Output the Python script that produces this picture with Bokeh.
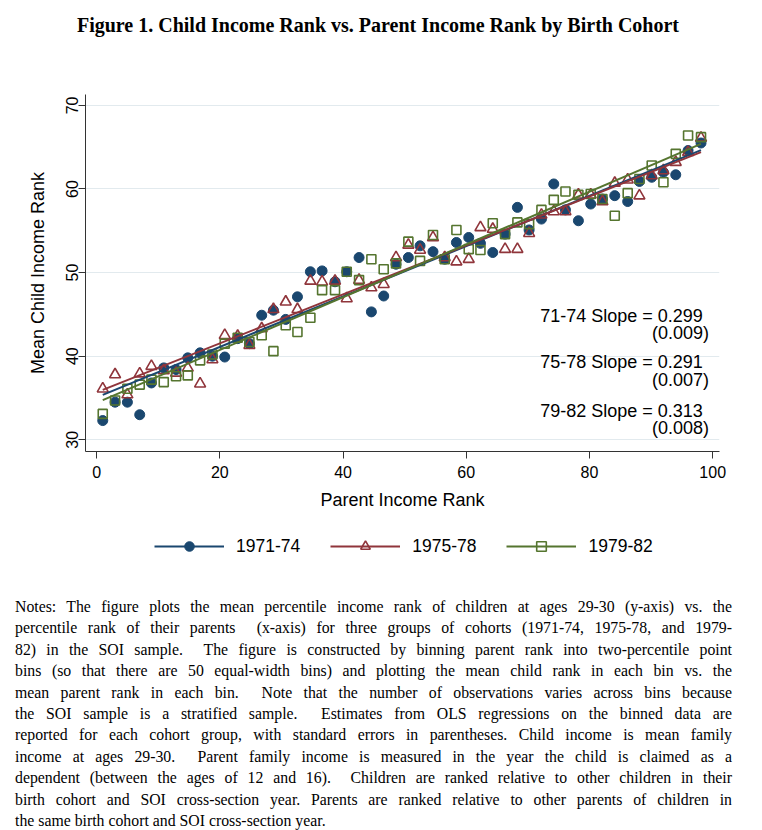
import numpy as np
from bokeh.plotting import figure
from bokeh.models import Range1d, FixedTicker, Label, Legend, LegendItem, Div
from bokeh.layouts import column
from bokeh.embed import file_html
from bokeh.resources import INLINE

# ---------------- data ----------------
parent_rank = [1.0, 3.0, 5.0, 7.0, 8.9, 10.9, 12.9, 14.8, 16.8, 18.8,
               20.8, 22.9, 24.8, 26.8, 28.7, 30.7, 32.6, 34.7, 36.6, 38.7,
               40.6, 42.6, 44.6, 46.6, 48.6, 50.6, 52.5, 54.6, 56.5, 58.4,
               60.4, 62.3, 64.3, 66.3, 68.3, 70.2, 72.2, 74.2, 76.1, 78.2,
               80.2, 82.1, 84.1, 86.2, 88.1, 90.1, 92.0, 94.0, 96.0, 98.1]

child_7174 = [32.3, 34.5, 34.5, 33.0, 36.8, 38.6, 38.4, 39.8, 40.4, 40.0,
              39.9, 42.1, 41.5, 44.9, 45.5, 44.4, 47.1, 50.1, 50.2, 48.9,
              50.1, 51.8, 45.3, 47.2, 51.0, 51.8, 53.2, 52.5, 51.6, 53.6,
              54.2, 53.5, 52.4, 54.6, 57.8, 55.1, 56.4, 60.6, 57.5, 56.2,
              58.2, 58.8, 59.2, 58.5, 60.9, 61.4, 62.0, 61.7, 64.6, 65.5]

child_7578 = [36.1, 37.8, 35.4, 37.9, 38.8, 38.3, 38.0, 38.6, 36.7, 39.6,
              42.5, 42.4, 41.3, 43.3, 45.6, 46.5, 45.6, 49.0, 48.9, 49.0,
              46.9, 49.1, 48.2, 48.6, 51.8, 53.3, 52.7, 54.2, 51.8, 51.3,
              51.6, 55.4, 55.2, 52.8, 52.8, 54.7, 56.9, 57.3, 57.3, 59.3,
              59.3, 58.5, 60.7, 61.1, 59.2, 61.6, 62.2, 63.2, 64.4, 66.1]

child_7982 = [33.1, 34.7, 36.1, 36.6, 37.2, 36.9, 37.6, 37.7, 39.5, 40.2,
              41.5, 42.2, 41.7, 42.5, 40.6, 43.7, 42.9, 44.6, 47.9, 47.9,
              50.1, 49.1, 51.6, 50.4, 51.1, 53.7, 51.4, 54.5, 51.6, 55.1,
              52.8, 52.7, 55.9, 54.6, 56.0, 55.8, 57.5, 58.7, 59.7, 59.3,
              59.4, 58.8, 56.8, 59.5, 61.2, 62.8, 60.8, 64.2, 66.4, 66.2]

cohort_labels = ["1971-74", "1975-78", "1979-82"]
slope_texts = ["71-74 Slope = 0.299", "75-78 Slope = 0.291", "79-82 Slope = 0.313"]
se_texts = ["(0.009)", "(0.007)", "(0.008)"]
x_ticks = [0, 20, 40, 60, 80, 100]
y_ticks = [30, 40, 50, 60, 70]

title_text = "Figure 1. Child Income Rank vs. Parent Income Rank by Birth Cohort"
notes_lines = [
    "Notes: The figure plots the mean percentile income rank of children at ages 29-30 (y-axis) vs. the",
    "percentile rank of their parents &nbsp;(x-axis) for three groups of cohorts (1971-74, 1975-78, and 1979-",
    "82) in the SOI sample. &nbsp;The figure is constructed by binning parent rank into two-percentile point",
    "bins (so that there are 50 equal-width bins) and plotting the mean child rank in each bin vs. the",
    "mean parent rank in each bin. &nbsp;Note that the number of observations varies across bins because",
    "the SOI sample is a stratified sample. &nbsp;Estimates from OLS regressions on the binned data are",
    "reported for each cohort group, with standard errors in parentheses. Child income is mean family",
    "income at ages 29-30. &nbsp;Parent family income is measured in the year the child is claimed as a",
    "dependent (between the ages of 12 and 16). &nbsp;Children are ranked relative to other children in their",
    "birth cohort and SOI cross-section year. Parents are ranked relative to other parents of children in",
    "the same birth cohort and SOI cross-section year.",
]

# ---------------- styles ----------------
BLUE = "#1a476f"
RED = "#90353b"
GREEN = "#55752f"
SANS = "Liberation Sans"
SERIF = "Liberation Serif"

# ---------------- title ----------------
title_div = Div(
    text=(f"<div style=\"width:746px;text-align:center;font-family:'{SERIF}';"
          f"font-weight:bold;font-size:20px;line-height:24px;padding-top:8px;color:#000\">"
          f"{title_text}</div>"),
    width=746, height=52)

# ---------------- main figure ----------------
p = figure(width=746, height=465, output_backend="svg", toolbar_location=None,
           x_range=Range1d(-1.8, 101.1), y_range=Range1d(28.6, 71.3),
           min_border_left=85, min_border_right=27, min_border_top=32,
           min_border_bottom=76)
p.outline_line_color = None
p.background_fill_color = "white"
p.border_fill_color = "white"
p.xgrid.visible = False
p.ygrid.ticker = FixedTicker(ticks=y_ticks)
p.ygrid.grid_line_color = "#e2eaee"
p.ygrid.grid_line_width = 1

p.xaxis.ticker = FixedTicker(ticks=x_ticks)
p.yaxis.ticker = FixedTicker(ticks=y_ticks)
p.xaxis.axis_label = "Parent Income Rank"
p.yaxis.axis_label = "Mean Child Income Rank"
p.yaxis.major_label_orientation = "vertical"
for ax in (p.xaxis[0], p.yaxis[0]):
    ax.axis_line_color = "#333333"
    ax.major_tick_line_color = "#333333"
    ax.major_tick_out = 7
    ax.major_tick_in = 0
    ax.minor_tick_out = 0
    ax.minor_tick_in = 0
    ax.major_label_text_font = SANS
    ax.major_label_text_font_size = "16px"
    ax.major_label_text_color = "black"
    ax.axis_label_text_font = SANS
    ax.axis_label_text_font_size = "18px"
    ax.axis_label_text_font_style = "normal"
    ax.axis_label_text_color = "black"
p.xaxis.major_label_standoff = 7
p.xaxis.axis_label_standoff = 9
p.yaxis.major_label_standoff = 0
p.yaxis.axis_label_standoff = 16

series = [(child_7174, BLUE, "circle"), (child_7578, RED, "triangle"), (child_7982, GREEN, "square")]
marker_style = {
    "circle": dict(size=10, fill_alpha=1.0, line_width=1),
    "triangle": dict(size=11, fill_alpha=0.0, line_width=1.6),
    "square": dict(size=9, fill_alpha=0.0, line_width=1.6),
}
xs = np.array(parent_rank)
for ys, col, mk in series:
    p.scatter(parent_rank, ys, marker=mk, fill_color=col, line_color=col, **marker_style[mk])

for ys, col, mk in series:
    b, a = np.polyfit(xs, np.array(ys), 1)
    x0, x1 = float(xs.min()), float(xs.max())
    p.line([x0, x1], [a + b * x0, a + b * x1], line_color=col, line_width=2)

# slope annotations
slope_y = [44.85, 39.25, 33.5]
se_y = [42.8, 37.1, 31.45]
for t, yy in zip(slope_texts, slope_y):
    p.add_layout(Label(x=98.4, y=yy, text=t, text_align="right", text_baseline="middle",
                       text_font=SANS, text_font_size="18px", text_color="black"))
for t, yy in zip(se_texts, se_y):
    p.add_layout(Label(x=99.4, y=yy, text=t, text_align="right", text_baseline="middle",
                       text_font=SANS, text_font_size="18px", text_color="black"))

# ---------------- legend strip ----------------
lg = figure(width=746, height=60, output_backend="svg", toolbar_location=None,
            x_range=Range1d(0, 1), y_range=Range1d(0, 1),
            x_axis_type=None, y_axis_type=None, min_border=0)
lg.outline_line_color = None
lg.xgrid.visible = False
lg.ygrid.visible = False
items = []
# legend-key renderers sit outside the strip's visible range; only their keys are shown
for (ys, col, mk), lab in zip(series, cohort_labels):
    r_line = lg.line([5, 6], [5, 6], line_color=col, line_width=2)
    r_mark = lg.scatter([5], [5], marker=mk, fill_color=col, line_color=col, **marker_style[mk])
    items.append(LegendItem(label=lab, renderers=[r_line, r_mark]))
legend = Legend(items=items, orientation="horizontal", location=(69, 29))
legend.glyph_width = 70
legend.glyph_height = 24
legend.label_standoff = 12
legend.spacing = 30
legend.padding = 4
legend.margin = 0
legend.border_line_color = None
legend.background_fill_alpha = 0
legend.label_text_font = SANS
legend.label_text_font_size = "17.5px"
legend.label_text_color = "black"
legend.label_text_baseline = "middle"
lg.add_layout(legend)

# ---------------- notes ----------------
rows = []
for i, ln_txt in enumerate(notes_lines):
    last = "justify" if i < len(notes_lines) - 1 else "left"
    rows.append(f"<div style=\"text-align:justify;text-align-last:{last};\">{ln_txt}</div>")
notes_div = Div(
    text=(f"<div style=\"width:727px;padding-left:10px;padding-top:4px;font-family:'{SERIF}';"
          f"font-size:15.8px;line-height:21.4px;color:#000\">" + "".join(rows) + "</div>"),
    width=746, height=240)

layout = column(title_div, p, lg, notes_div)
open("out.html", "w").write(file_html(layout, INLINE))
